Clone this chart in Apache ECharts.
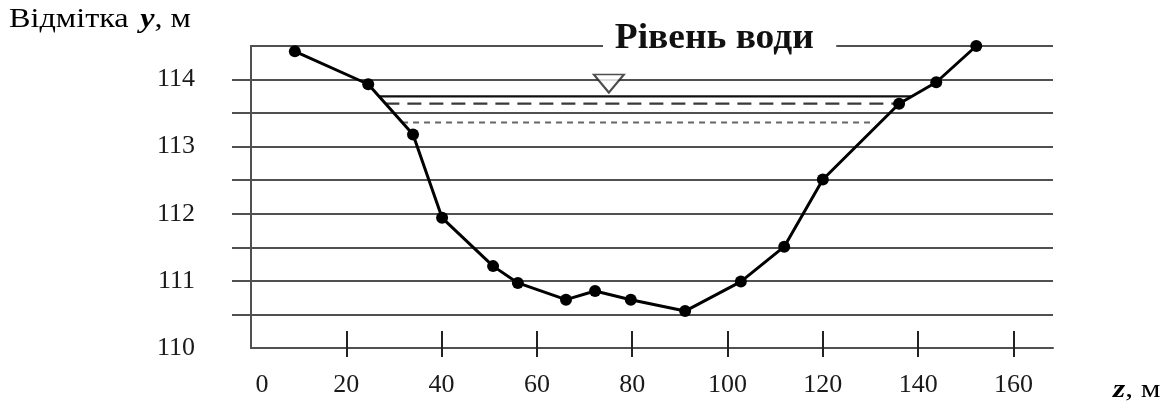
<!DOCTYPE html>
<html>
<head>
<meta charset="utf-8">
<script src="https://cdn.jsdelivr.net/npm/echarts@6/dist/echarts.min.js"></script>
<style>
html,body{margin:0;padding:0;background:#fff;}
#chart{width:1173px;height:405px;}
</style>
</head>
<body>
<div id="chart"></div>
<script>
// ---- data ----
const profileZ = [9.2, 24.6, 34.0, 40.1, 50.8, 56.0, 66.1, 72.2, 79.7, 91.1, 102.8, 111.9, 120.0, 136.0, 143.8, 152.2];
const profileY = [114.42, 113.93, 113.18, 111.94, 111.22, 110.97, 110.72, 110.85, 110.72, 110.55, 110.99, 111.51, 112.51, 113.64, 113.96, 114.50];
const solidLevel = 113.75, solidFrom = 26.9, solidTo = 138.5;
const dashedLevel = 113.64, dashedFrom = 28.2, dashedTo = 136.0;
const dottedLevel = 113.36, dottedFrom = 31.7, dottedTo = 131.0;
const markerZ = 75.1, markerY = 113.94;
const topLevel = 114.5;
const xTickValues = [20, 40, 60, 80, 100, 120, 140, 160];
const xLabelValues = [0, 20, 40, 60, 80, 100, 120, 140, 160];
const yTickValues = [110.5, 111, 111.5, 112, 112.5, 113, 113.5, 114];
const yLabelValues = [110, 111, 112, 113, 114];
const titleText = 'Рівень води';

const X_MIN = 0, X_MAX = 168.3, Y_MIN = 110, Y_MAX = 114.5;
const SERIF = '"Liberation Serif", "DejaVu Serif", serif';
const GRID_COLOR = '#505050';

const chart = echarts.init(document.getElementById('chart'), null, {renderer: 'canvas'});

const profileData = profileZ.map((z, i) => [z, profileY[i]]);

chart.setOption({
  backgroundColor: '#fff',
  animation: false,
  grid: {left: 251, right: 120, top: 46, bottom: 57, containLabel: false},
  xAxis: [
    {
      type: 'value', min: X_MIN, max: X_MAX, position: 'bottom',
      axisLine: {show: true, lineStyle: {color: GRID_COLOR, width: 2}},
      axisTick: {show: true, inside: false, length: 9, customValues: xTickValues, lineStyle: {color: '#222', width: 2}},
      axisLabel: {
        show: true, customValues: xLabelValues, margin: 24,
        fontFamily: SERIF, fontSize: 26, color: '#1a1a1a',
        formatter: v => v === 0 ? '{z|0}' : String(v),
        rich: {z: {fontFamily: SERIF, fontSize: 26, color: '#1a1a1a', padding: [0, 0, 0, 22]}}
      },
      splitLine: {show: false}
    },
    {
      type: 'value', min: X_MIN, max: X_MAX, position: 'bottom',
      axisLine: {show: false},
      axisTick: {show: true, inside: true, length: 17, customValues: xTickValues, lineStyle: {color: '#222', width: 2}},
      axisLabel: {show: false},
      splitLine: {show: false}
    }
  ],
  yAxis: [
    {
      type: 'value', min: Y_MIN, max: Y_MAX, interval: 0.5, position: 'left',
      axisLine: {show: true, lineStyle: {color: GRID_COLOR, width: 2}},
      axisTick: {show: true, inside: false, length: 19, customValues: yTickValues, lineStyle: {color: GRID_COLOR, width: 2}},
      axisLabel: {
        show: true, customValues: yLabelValues, margin: 56,
        fontFamily: SERIF, fontSize: 26, color: '#1a1a1a', padding: [0, 0, 12, 0],
        formatter: v => String(v)
      },
      splitLine: {show: true, lineStyle: {color: GRID_COLOR, width: 2}}
    },
    {
      type: 'value', min: Y_MIN, max: Y_MAX, interval: 0.5, position: 'right',
      axisLine: {show: true, lineStyle: {color: GRID_COLOR, width: 2}},
      axisTick: {show: false}, axisLabel: {show: false}, splitLine: {show: false}
    }
  ],
  series: [
    {
      type: 'line', name: 'top', data: [], silent: true,
      markLine: {
        silent: true, symbol: 'none', label: {show: false},
        lineStyle: {color: GRID_COLOR, width: 2, type: 'solid'},
        data: [{yAxis: topLevel}]
      }
    },
    {
      type: 'line', name: 'solid', data: [[solidFrom, solidLevel], [solidTo, solidLevel]],
      symbol: 'none', silent: true, lineStyle: {color: '#111', width: 2.4, type: 'solid'}, z: 3
    },
    {
      type: 'line', name: 'dashed', data: [[dashedFrom, dashedLevel], [dashedTo, dashedLevel]],
      symbol: 'none', silent: true, lineStyle: {color: '#3a3a3a', width: 2.2, type: [14, 8]}, z: 3
    },
    {
      type: 'line', name: 'dotted', data: [[dottedFrom, dottedLevel], [dottedTo, dottedLevel]],
      symbol: 'none', silent: true, lineStyle: {color: '#666', width: 2.2, type: [6, 5]}, z: 3
    },
    {
      type: 'scatter', name: 'marker', data: [[markerZ, markerY]], silent: true,
      symbol: 'triangle', symbolRotate: 180, symbolSize: [30, 18],
      itemStyle: {color: '#fff', borderColor: '#222', borderWidth: 2}, z: 4
    },
    {
      type: 'line', name: 'profile', data: profileData, clip: false, silent: true,
      symbol: 'circle', symbolSize: 12, showSymbol: true,
      lineStyle: {color: '#000', width: 3},
      itemStyle: {color: '#000'}, z: 5
    }
  ],
  graphic: [
    {
      type: 'text', x: 9, y: 6, z: 100, scaleX: 1.15,
      style: {
        text: '{a|Відмітка}   {b|y}{a|, м}',
        rich: {
          a: {fontFamily: SERIF, fontSize: 28, color: '#1a1a1a'},
          b: {fontFamily: SERIF, fontSize: 28, fontWeight: 'bold', fontStyle: 'italic', color: '#1a1a1a'}
        }
      }
    },
    {
      type: 'text', x: 603, y: 39, z: 100, scaleX: 1.07,
      style: {
        text: titleText, fontFamily: SERIF, fontSize: 35, fontWeight: 'bold', fill: '#111',
        verticalAlign: 'middle', align: 'left',
        backgroundColor: '#fff', padding: [2, 21, 2, 11]
      }
    },
    {
      type: 'text', x: 1113, y: 390, z: 100, scaleX: 1.2,
      style: {
        text: '{b|z}{a|, м}', verticalAlign: 'middle', align: 'left',
        rich: {
          a: {fontFamily: SERIF, fontSize: 26, color: '#1a1a1a'},
          b: {fontFamily: SERIF, fontSize: 26, fontWeight: 'bold', fontStyle: 'italic', color: '#1a1a1a'}
        }
      }
    }
  ]
});
</script>
</body>
</html>
